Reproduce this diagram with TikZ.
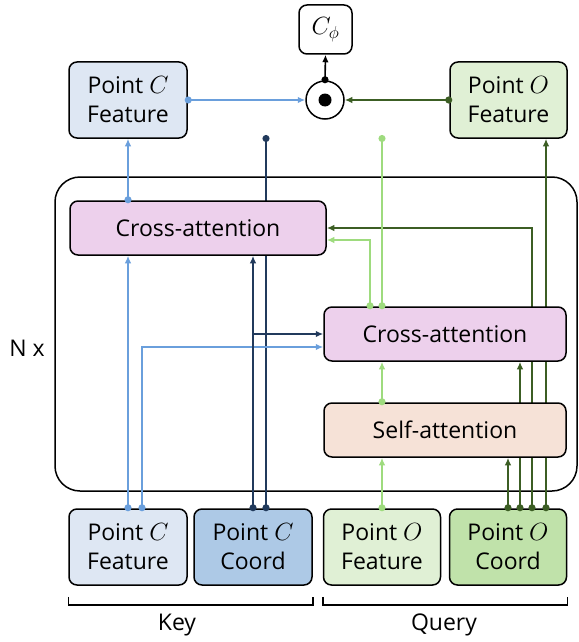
\documentclass[tikz,border=0pt]{standalone}
\usepackage{fontspec}
\setmainfont{Open Sans}
\usepackage{tikz}
\usetikzlibrary{arrows.meta}
\usetikzlibrary{shapes}

\definecolor{keyfeat}{HTML}{DEE7F3}
\definecolor{keycoord}{HTML}{ADC9E6}
\definecolor{queryfeat}{HTML}{E0F0D5}
\definecolor{querycoord}{HTML}{C0E2AA}
\definecolor{attnfill}{HTML}{EDD0EC}
\definecolor{selffill}{HTML}{F6E2D7}
\definecolor{lblue}{HTML}{6A9FDC}
\definecolor{navy}{HTML}{213A5C}
\definecolor{lgreen}{HTML}{9EDB7E}
\definecolor{dgreen}{HTML}{3C5E24}

\pgfdeclarelayer{front}
\pgfdeclarelayer{top}
\pgfsetlayers{main,front,top}

\begin{document}
\begin{tikzpicture}[x=1pt, y=-1pt,
    every node/.style={font=\fontsize{23}{29}\selectfont},
    featbox/.style={draw, line width=1.5pt, rounded corners=8pt, align=center,
      inner sep=0pt, minimum width=118pt, minimum height=76pt},
    attn/.style={featbox, fill=attnfill, minimum width=242pt, minimum height=54pt},
    conn/.style={line width=1.6pt, shorten <=-3pt,
      {Circle[length=7pt]}-{Latex[length=7.5pt,width=6.5pt]}},
    feed/.style={line width=1.6pt, -{Latex[length=7.5pt,width=6.5pt]}},
    dots/.style={line width=1.6pt, shorten <=-3pt, shorten >=-3pt,
      {Circle[length=7pt]}-{Circle[length=7pt]}}]
    \useasboundingbox (0,0) rectangle (578,642);

    % output side
    \node[featbox, fill=keyfeat] (cfTop) at (128,100) {Point \(C\)\\Feature};
    \node[featbox, fill=queryfeat, minimum width=117pt] (ofTop) at (508.5,100) {Point \(O\)\\Feature};
    \node[draw, line width=1.5pt, rounded corners=8pt, inner sep=0pt,
      minimum width=53pt, minimum height=49pt] (cphi) at (325.5,29.5) {\(C_{\phi}\)};
    \node[draw, circle, line width=1.5pt, minimum size=38pt, inner sep=0pt] (prod) at (325,100) {};
    \node[fill=black, circle, minimum size=13pt, inner sep=0pt] (prodDot) at (prod) {};

    % repeated block
    \node[draw, line width=1.5pt, rounded corners=25pt, minimum width=522pt,
      minimum height=314pt] (stack) at (316,334) {};
    \node (nx) at (27,348) {N x};
    \begin{pgfonlayer}{front}
      \node[attn, minimum width=256pt] (crossA) at (198,228) {Cross-attention};
      \node[attn] (crossB) at (445,334) {Cross-attention};
      \node[attn, fill=selffill] (selfA) at (445,430) {Self-attention};
    \end{pgfonlayer}

    % inputs
    \node[featbox, fill=keyfeat] (cfeat) at (128,547) {Point \(C\)\\Feature};
    \node[featbox, fill=keycoord] (ccoord) at (253,547) {Point \(C\)\\Coord};
    \node[featbox, fill=queryfeat, minimum width=117pt] (ofeat) at (382,547) {Point \(O\)\\Feature};
    \node[featbox, fill=querycoord, minimum width=117pt] (ocoord) at (508,547) {Point \(O\)\\Coord};

    \draw[line width=1.5pt] ([yshift=-11pt]cfeat.south west) -- ([yshift=-19pt]cfeat.south west)
      -- ([yshift=-19pt]ccoord.south east) -- ([yshift=-11pt]ccoord.south east);
    \draw[line width=1.5pt] ([yshift=-11pt]ofeat.south west) -- ([yshift=-19pt]ofeat.south west)
      -- ([yshift=-19pt]ocoord.south east) -- ([yshift=-11pt]ocoord.south east);
    \node (key) at (177,625) {Key};
    \node (query) at (444,625) {Query};

    \coordinate (navyEnd) at (266,138);
    \coordinate (greenEnd) at (382,138);

    % lines running under the attention blocks
    \draw[dots, navy] ([xshift=13pt]ccoord.north) -- (navyEnd);
    \draw[conn, dgreen] ([xshift=12pt]ocoord.north) -- ([xshift=12pt]ocoord.north |- crossB.south);
    \draw[conn, dgreen] ([xshift=24pt]ocoord.north) |- (crossA.east);
    \draw[conn, dgreen] ([xshift=38pt]ocoord.north) -- ([xshift=38pt]ocoord.north |- ofTop.south);

    \begin{pgfonlayer}{top}
      \draw[conn, lblue] (cfTop.east) -- (prod.west);
      \draw[conn, dgreen] (ofTop.west) -- (prod.east);
      \draw[conn, black] (prod.north) -- (cphi.south);
      \draw[conn, lblue] (cfTop.south |- crossA.north) -- (cfTop.south);
      \draw[conn, lblue] (cfeat.north) -- (cfeat.north |- crossA.south);
      \draw[conn, lblue] ([xshift=14pt]cfeat.north) |- ([yshift=-13pt]crossB.west);
      \draw[conn, navy] (ccoord.north) -- (ccoord.north |- crossA.south);
      \draw[feed, navy] (ccoord.north |- crossB.west) -- (crossB.west);
      \draw[conn, lgreen] (ofeat.north) -- (ofeat.north |- selfA.south);
      \draw[conn, lgreen] (ofeat.north |- selfA.north) -- (ofeat.north |- crossB.south);
      \draw[dots, lgreen] (ofeat.north |- crossB.north) -- (greenEnd);
      \draw[conn, lgreen] ([xshift=-12pt]ofeat.north |- crossB.north) |- ([yshift=-12pt]crossA.east);
      \draw[conn, dgreen] (ocoord.north) -- (ocoord.north |- selfA.south);
    \end{pgfonlayer}
\end{tikzpicture}
\end{document}
